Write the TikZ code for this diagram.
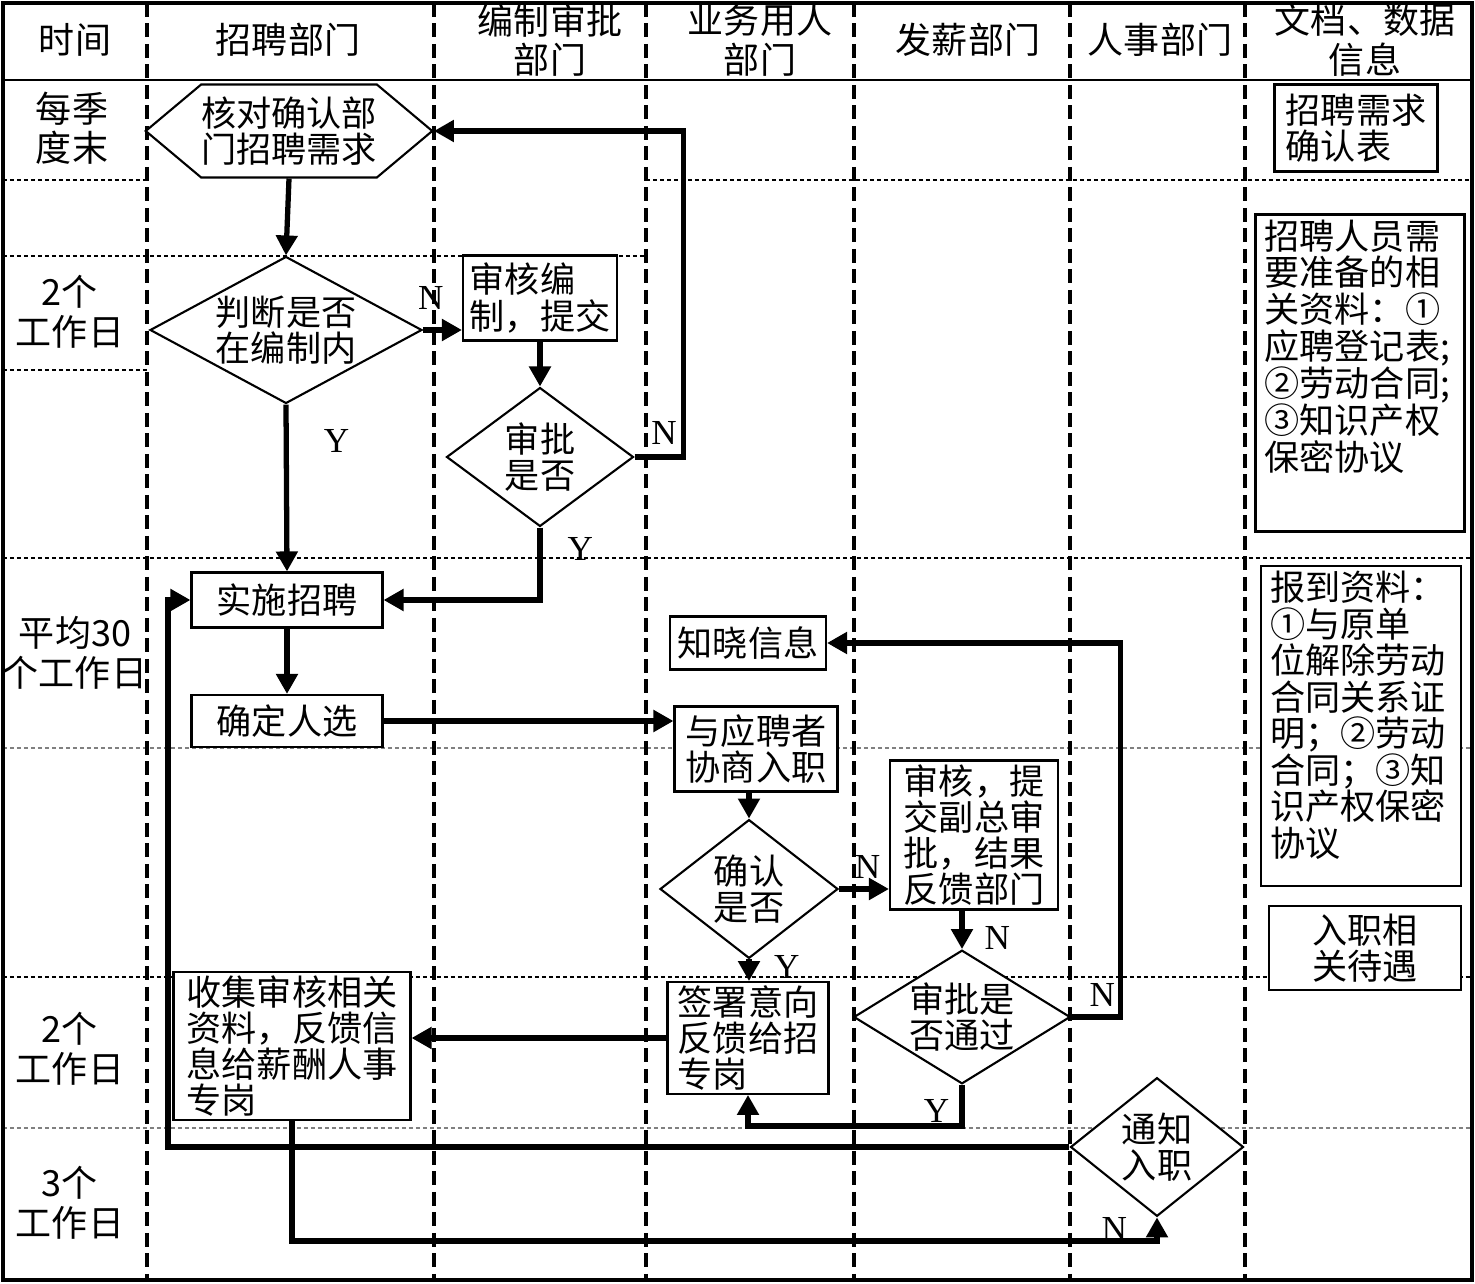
\documentclass[tikz,border=0pt]{standalone}
\usepackage{fontspec}
\setmainfont{Liberation Serif}
\newfontfamily\cjk{Noto Sans CJK SC}
\usetikzlibrary{arrows.meta,shapes.geometric,shapes.symbols}

\tikzset{
  lane/.style={line width=2.6pt, dash pattern=on 0.28cm off 0.13cm},
  rowsep/.style={line width=0.7pt, dash pattern=on 0.08cm off 0.06cm},
  cjktext/.style={font=\cjk\fontsize{20}{20.5}\selectfont},
  headtext/.style={font=\cjk\fontsize{20.5}{22.5}\selectfont, align=center, inner sep=0pt},
  proc/.style={draw, line width=1.2pt, fill=white, inner sep=2pt, align=left, cjktext},
  decide/.style={diamond, draw, line width=1.2pt, fill=white, inner sep=0pt, align=center, cjktext},
  docbox/.style={draw, line width=1.2pt, fill=white, inner xsep=0.18cm, inner ysep=0.1cm, cjktext},
  flow/.style={line width=3pt, -{Triangle[length=0.4cm,width=0.42cm]}},
  yn/.style={font=\fontsize{20}{20}\selectfont, inner sep=0pt},
}

\begin{document}
\begin{tikzpicture}[x=0.02cm, y=-0.02cm]
\useasboundingbox (0,0) rectangle (1475,1284);

% ---------- rows (time steps) ----------
\draw[rowsep] (3,180) -- (147,180);
\draw[rowsep] (646,180) -- (1472,180);
\draw[rowsep] (3,256) -- (646,256);
\draw[rowsep] (3,370) -- (147,370);
\draw[rowsep] (3,558) -- (1472,558);
\draw[rowsep, gray] (3,748) -- (1472,748);
\draw[rowsep] (3,977) -- (1472,977);
\draw[rowsep, gray] (3,1128) -- (1472,1128);

% ---------- lanes ----------
\draw[lane] (147,3) -- (147,1280);
\draw[lane] (434,3) -- (434,1280);
\draw[lane] (646,3) -- (646,1280);
\draw[lane] (854,3) -- (854,1280);
\draw[lane] (1070,3) -- (1070,1280);
\draw[lane] (1245,3) -- (1245,1280);

% ---------- frame and header ----------
\draw[line width=2.5pt] (3,3) rectangle (1472,1280);
\draw[line width=1.3pt] (3,80) -- (1472,80);

\node[headtext] (hTime) at (75,40) {时间};
\node[headtext] (hRecruit) at (288,40) {招聘部门};
\node[headtext] (hQuota) at (550,40) {编制审批\\部门};
\node[headtext] (hUser) at (760,40) {业务用人\\部门};
\node[headtext] (hPay) at (968,40) {发薪部门};
\node[headtext] (hHR) at (1160,40) {人事部门};
\node[headtext] (hDoc) at (1365,40) {文档、数据\\信息};

\node[headtext] (tA) at (72,128) {每季\\度末};
\node[headtext] (tB) at (70,312) {2个\\工作日};
\node[headtext] (tC) at (75,653) {平均30\\个工作日};
\node[headtext] (tD) at (70,1049) {2个\\工作日};
\node[headtext] (tE) at (70,1203) {3个\\工作日};

% ---------- process nodes ----------
\node[signal, signal to=west and east, signal pointer angle=80, draw, line width=1.2pt,
      fill=white, inner sep=0pt, align=center, cjktext,
      minimum width=5.56cm, minimum height=1.86cm] (check) at (289,131) {核对确认部\\门招聘需求};
\node[decide, aspect=1.85, minimum width=5.44cm, minimum height=2.94cm] (inquota) at (286,330) {判断是否\\在编制内};
\node[proc, minimum width=3.08cm, minimum height=1.7cm] (draft) at (540,298) {审核编\\制，提交};
\node[decide, minimum width=3.74cm, minimum height=2.7cm] (approve) at (540,457) {审批\\是否};
\node[proc, align=center, minimum width=3.82cm, minimum height=1.1cm] (recruit) at (287,600) {实施招聘};
\node[proc, align=center, minimum width=3.82cm, minimum height=1.04cm] (pick) at (287,721) {确定人选};
\node[proc, minimum width=3.12cm, minimum height=1.06cm] (notice) at (748,643) {知晓信息};
\node[proc, align=center, minimum width=3.26cm, minimum height=1.7cm] (negotiate) at (756,749) {与应聘者\\协商入职};
\node[decide, minimum width=3.56cm, minimum height=2.64cm] (confirm) at (749,889) {确认\\是否};
\node[proc, minimum width=3.36cm, minimum height=2.98cm] (review) at (974,835) {审核，提\\交副总审\\批，结果\\反馈部门};
\node[decide, aspect=1.62, minimum width=4.3cm, minimum height=2.66cm] (passed) at (962,1017) {审批是\\否通过};
\node[proc, minimum width=3.22cm, minimum height=2.16cm] (sign) at (748,1038) {签署意向\\反馈给招\\专岗};
\node[proc, minimum width=4.74cm, minimum height=2.96cm] (collect) at (292,1046) {收集审核相关\\资料，反馈信\\息给薪酬人事\\专岗};
\node[decide, minimum width=3.46cm, minimum height=2.66cm] (onboard) at (1157,1147) {通知\\入职};

% ---------- documents ----------
\node[docbox, align=left, minimum width=3.26cm, minimum height=1.74cm] (docA) at (1356,128) {招聘需求\\确认表};
\node[docbox] (docB) at (1360,373) {\parbox[c][6.14cm][t]{3.82cm}{\fontsize{20}{21}\selectfont
  招聘人员需\\要准备的相\\关资料：①\\应聘登记表;\\②劳动合同;\\③知识产权\\保密协议}};
\node[docbox] (docC) at (1361,726) {\parbox[c][6.2cm][t]{3.64cm}{\fontsize{20}{20.8}\selectfont
  报到资料：\\①与原单\\位解除劳动\\合同关系证\\明；②劳动\\合同；③知\\识产权保密\\协议}};
\node[docbox, align=center, minimum width=3.84cm, minimum height=1.68cm] (docD) at (1365,948) {入职相\\关待遇};

% ---------- connectors ----------
\coordinate (backup) at (168,600);

\draw[flow] (check.south) -- (inquota.north);
\draw[flow] (inquota.east) -- node[yn, pos=0.2, above=0.35cm] {N} (draft.west |- inquota.east);
\draw[flow] (draft.south -| approve.north) -- (approve.north);
\draw[flow] (approve.east) -- ++(49,0) node[yn, pos=0.6, above=0.2cm] {N} |- (check.east);
\draw[flow] (inquota.south) -- node[yn, pos=0.22, right=0.7cm] {Y} (recruit.north);
\draw[flow] (approve.south) |- node[yn, pos=0.15, right=0.5cm] {Y} (recruit.east);
\draw[flow] (recruit.south) -- (pick.north);
\draw[flow] (pick.east) -- (pick.east -| negotiate.west);
\draw[flow] (confirm.north |- negotiate.south) -- (confirm.north);
\draw[flow] (confirm.east) -- node[yn, pos=0.57, above=0.15cm] {N} (confirm.east -| review.west);
\draw[flow] (passed.north |- review.south) -- node[yn, pos=0.7, right=0.4cm] {N} (passed.north);
\draw[flow] (passed.east) -- ++(49,0) node[yn, pos=0.63, above=0.15cm] {N} |- (notice.east);
\draw[flow] (confirm.south) -- node[yn, pos=0.35, right=0.45cm] {Y} (confirm.south |- sign.north);
\draw[flow] (passed.south) -- ++(0,41) node[yn, pos=0.63, left=0.2cm] {Y} -| (sign.south);
\draw[flow] (sign.west) -- (sign.west -| collect.east);
\draw[flow] (onboard.west) -| (backup) -- (recruit.west);
\draw[flow] (collect.south) -- ++(0,120) -| node[yn, pos=0.75, left=0.55cm] {N} (onboard.south);

\end{tikzpicture}
\end{document}
